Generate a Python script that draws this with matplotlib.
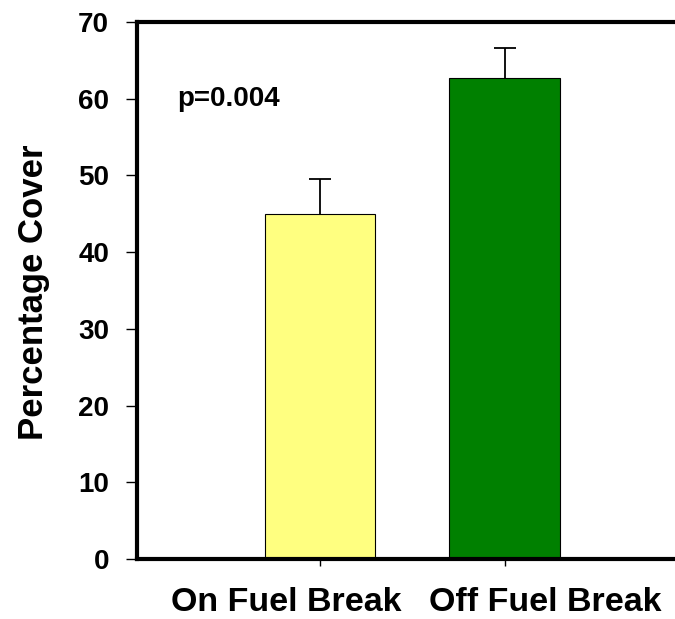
import matplotlib.pyplot as plt
from matplotlib.transforms import ScaledTranslation

plt.rcParams['font.family'] = ['Liberation Sans', 'DejaVu Sans']
plt.rcParams['font.weight'] = 'bold'

groups = ['On Fuel Break', 'Off Fuel Break']
cover = [45.0, 62.7]
err_up = [4.5, 3.9]
bar_colors = ['#ffff80', '#008000']
yticks = [0, 10, 20, 30, 40, 50, 60, 70]

fig = plt.figure(figsize=(6.75, 6.19), dpi=100)
ax = fig.add_axes([137 / 675, 1 - 559 / 619, 538 / 675, 537 / 619])

x = list(range(len(groups)))
ax.bar(x, cover, width=0.6, color=bar_colors, edgecolor='black', linewidth=0.8, zorder=2)
# only the upper half of the error bar, as in the original
tops = [c + e for c, e in zip(cover, err_up)]
ax.vlines(x, cover, tops, color='black', linewidth=1.3, zorder=3)
ax.hlines(tops, [i - 0.06 for i in x], [i + 0.06 for i in x], color='black', linewidth=1.3, zorder=3)

ax.set_xlim(-0.99, 1.92)
ax.set_ylim(0, 70)
ax.set_yticks(yticks)
ax.set_xticks(x)
ax.set_xticklabels(groups, fontsize=24.5, fontweight='bold')
ax.tick_params(axis='y', labelsize=20, length=8, width=1, direction='out', pad=12)
ax.tick_params(axis='x', length=5, width=1, direction='out', pad=15)
for lab in ax.get_yticklabels():
    lab.set_fontweight('bold')

# shift x labels apart like the original
shifts = [-34, 40]
for lab, dx in zip(ax.get_xticklabels(), shifts):
    lab.set_transform(lab.get_transform() + ScaledTranslation(dx / 100, 0, fig.dpi_scale_trans))

ax.spines['right'].set_visible(False)
for s in ['left', 'top', 'bottom']:
    ax.spines[s].set_linewidth(3)

ax.set_ylabel('Percentage Cover', fontsize=25, fontweight='bold', va='center')
ax.yaxis.set_label_coords(-0.192, 0.497)
ax.text(-0.774, 60, 'p=0.004', fontsize=20, fontweight='bold', va='center')

fig.savefig('out.png', dpi=100)
